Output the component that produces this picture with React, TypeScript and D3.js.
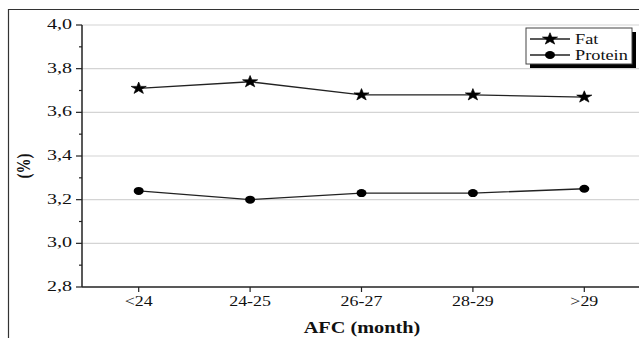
import React from "react";
import * as d3 from "d3";

const categories = ["<24", "24-25", "26-27", "28-29", ">29"];
const fatValues = [3.71, 3.74, 3.68, 3.68, 3.67];
const proteinValues = [3.24, 3.2, 3.23, 3.23, 3.25];
const yMajorTicks = [2.8, 3.0, 3.2, 3.4, 3.6, 3.8, 4.0];
const yMinorTicks = [2.9, 3.1, 3.3, 3.5, 3.7, 3.9];
const seriesNames = ["Fat", "Protein"];

const W = 639;
const H = 338;
const left = 82;
const top = 25;
const bottom = 287;
const right = 639;
const font = "Liberation Serif, Times New Roman, serif";
const MX = 1.27;

function T(props: {
  x: number;
  y: number;
  anchor?: string;
  size?: number;
  sx?: number;
  bold?: boolean;
  children: React.ReactNode;
}) {
  const { x, y, anchor = "start", size = 14, sx = 1.25, bold = false, children } = props;
  return (
    <text
      transform={`translate(${x},${y}) scale(${sx},1)`}
      textAnchor={anchor}
      fontSize={size}
      fontWeight={bold ? "bold" : "normal"}
      fill="#111"
      style={{ fontFamily: font }}
    >
      {children}
    </text>
  );
}

export default function App() {
  const x = d3.scalePoint<string>().domain(categories).range([83, 640]).padding(0.5);
  const y = d3.scaleLinear().domain([2.8, 4.0]).range([bottom, top]);
  const line = d3
    .line<number>()
    .x((_, i) => x(categories[i]) as number)
    .y((d) => y(d));
  const starPath = d3.symbol().type(d3.symbolStar).size(44)() as string;
  const fmt = (v: number) => v.toFixed(1).replace(".", ",");

  return (
    <svg width={W} height={H} style={{ position: "absolute", left: 0, top: 0 }}>
      <rect x={0} y={0} width={W} height={H} fill="#fff" />
      <path d={`M8.5,${H} V9.5 H${W}`} fill="none" stroke="#333" strokeWidth={1.2} />
      {yMajorTicks.slice(1).map((t) => (
        <line key={t} x1={left} x2={right} y1={y(t)} y2={y(t)} stroke="#d4d4d4" strokeWidth={1.2} />
      ))}
      <line x1={left} x2={left} y1={top} y2={bottom} stroke="#222" strokeWidth={1.5} />
      <line x1={left} x2={right} y1={bottom} y2={bottom} stroke="#222" strokeWidth={1.5} />
      {yMajorTicks.map((t) => (
        <g key={t}>
          <line x1={left - 6} x2={left} y1={y(t)} y2={y(t)} stroke="#222" strokeWidth={1.2} />
          <T x={72} y={y(t) + 4} anchor="end" size={14.5} sx={1.38}>
            {fmt(t)}
          </T>
        </g>
      ))}
      {yMinorTicks.map((t) => (
        <line key={t} x1={left - 3} x2={left} y1={y(t)} y2={y(t)} stroke="#222" strokeWidth={1.2} />
      ))}
      {categories.map((c) => (
        <g key={c}>
          <line x1={x(c)} x2={x(c)} y1={bottom} y2={bottom + 5} stroke="#222" strokeWidth={1.2} />
          <T x={x(c) as number} y={306} anchor="middle" size={14} sx={1.28}>
            {c}
          </T>
        </g>
      ))}
      <T x={362} y={333} anchor="middle" size={16.5} sx={1.23} bold>
        AFC (month)
      </T>
      <text
        transform={`translate(30,166) rotate(-90) scale(1,1.25)`}
        textAnchor="middle"
        fontSize={15}
        fontWeight="bold"
        fill="#111"
        style={{ fontFamily: font }}
      >
        (%)
      </text>
      <path d={line(fatValues) as string} fill="none" stroke="#222" strokeWidth={1.3} />
      <path d={line(proteinValues) as string} fill="none" stroke="#222" strokeWidth={1.3} />
      {fatValues.map((v, i) => (
        <path
          key={i}
          d={starPath}
          transform={`translate(${x(categories[i])},${y(v)}) scale(${MX},1)`}
          fill="#000"
          stroke="#000"
          strokeWidth={0.6}
        />
      ))}
      {proteinValues.map((v, i) => (
        <ellipse key={i} cx={x(categories[i]) as number} cy={y(v)} rx={5} ry={4} fill="#000" />
      ))}
      <rect x={530} y={32} width={106} height={36} fill="#000" />
      <rect x={526} y={28} width={106} height={36} fill="#fff" stroke="#444" strokeWidth={1} />
      <line x1={530} x2={570} y1={39} y2={39} stroke="#222" strokeWidth={1.3} />
      <path d={starPath} transform={`translate(550,39) scale(${MX},1)`} fill="#000" stroke="#000" strokeWidth={0.6} />
      <T x={575} y={44} size={15} sx={1.22}>
        {seriesNames[0]}
      </T>
      <line x1={530} x2={570} y1={55} y2={55} stroke="#222" strokeWidth={1.3} />
      <ellipse cx={550} cy={55} rx={5} ry={4} fill="#000" />
      <T x={575} y={60} size={15} sx={1.22}>
        {seriesNames[1]}
      </T>
    </svg>
  );
}
